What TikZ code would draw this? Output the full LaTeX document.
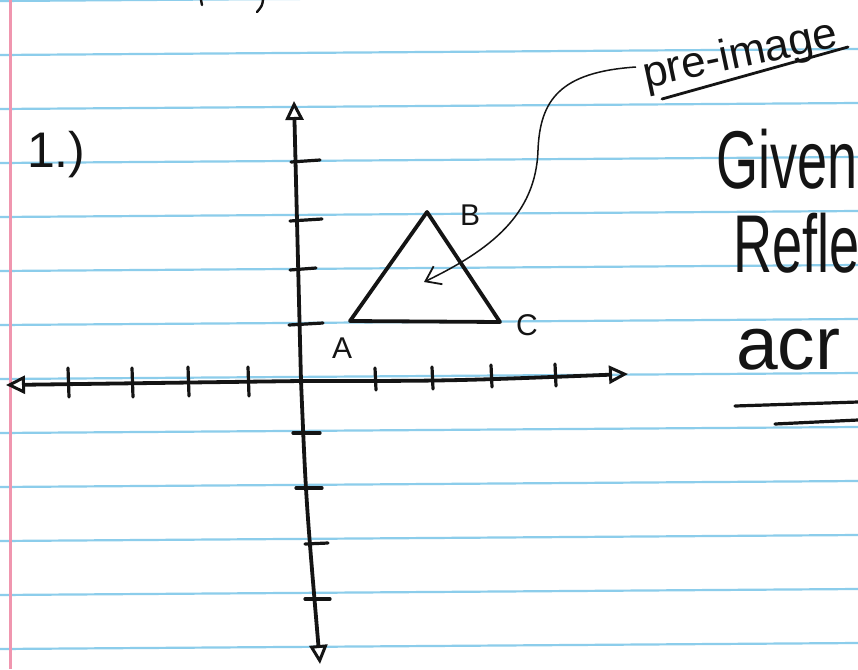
\documentclass[tikz,border=0pt]{standalone}
\usepackage{fontspec}
\setmainfont{Liberation Sans}
\usetikzlibrary{arrows.meta}
\definecolor{ruleblue}{RGB}{140,205,235}
\definecolor{marginpink}{RGB}{240,150,175}
\definecolor{ink}{RGB}{20,20,20}
\tikzset{
 rule/.style={ruleblue, line width=2.2pt},
 axisline/.style={ink, line width=3.8pt, line cap=round},
 tickmark/.style={ink, line width=3.2pt, line cap=round},
 tri/.style={ink, line width=3.8pt, line join=round},
 hand/.style={ink, inner sep=0pt, outer sep=0pt},
 pointer/.style={ink, line width=1.5pt},
 opentip/.style={-{Triangle[open,length=19pt,width=18pt,line width=3pt]}},
}
\begin{document}
\begin{tikzpicture}[x=1pt,y=-1pt]
\useasboundingbox (0,0) rectangle (858,669);
\clip (0,0) rectangle (858,669);
\fill[white] (0,0) rectangle (858,669);
% ruled lines
\foreach \y in {1,55,...,650} \draw[rule] (0,\y) -- (858,\y-6);
% margin
\draw[marginpink, line width=3pt] (10,0) -- (10,669);
% stray strokes at top
\draw[ink, line width=2.4pt, line cap=round] (201,0) -- (202,5);
\draw[ink, line width=2.4pt, line cap=round] (263,0) .. controls (262,6) .. (257,12);
% axes
\coordinate (O) at (301,381);
\coordinate (ytop) at (294,101);
\coordinate (ybot) at (320,664);
\coordinate (xleft) at (6,385);
\coordinate (xright) at (628,374);
\draw[axisline, opentip] (O) -- (ytop);
\draw[axisline, opentip] (O) .. controls (306,500) .. (ybot);
\draw[axisline, opentip] (O) -- (xleft);
\draw[axisline, opentip] (O) .. controls (450,381) .. (xright);
% x ticks
\foreach \x/\yy in {68/383,132/383,188/382,248/382} \draw[tickmark] (\x,\yy-15) -- (\x+1,\yy+14);
\foreach \x/\yy in {375/379,432/378,491/376,555/375} \draw[tickmark] (\x,\yy-11) -- (\x+1,\yy+11);
% y ticks
\draw[tickmark] (291,162) -- (320,160);
\draw[tickmark] (290,221) -- (322,219);
\draw[tickmark] (290,270) -- (316,268);
\draw[tickmark] (289,325) -- (323,323);
\draw[tickmark] (293,433) -- (320,433);
\draw[tickmark] (296,488) -- (322,488);
\draw[tickmark] (305,544) -- (328,543);
\draw[tickmark] (305,599) -- (330,599);
% triangle
\coordinate (A) at (350,321);
\coordinate (B) at (427,212);
\coordinate (C) at (500,322);
\draw[tri] (A) -- (B) -- (C) -- cycle;
\node[hand, font=\fontsize{30}{30}\selectfont] (lA) at (342,348) {A};
\node[hand, font=\fontsize{30}{30}\selectfont] (lB) at (470,215) {B};
\node[hand, font=\fontsize{30}{30}\selectfont] (lC) at (527,325) {C};
% pre-image label and pointer
\node[hand, rotate=12, anchor=base west, font=\fontsize{44}{44}\selectfont] (pre) at (646,88) {pre-image};
\coordinate (u0) at (662,99);
\coordinate (u1) at (848,47);
\draw[ink, line width=2.8pt, line cap=round] (u0) -- (u1);
\coordinate (p0) at (636,67);
\coordinate (p1) at (424,282);
\draw[pointer, -{Straight Barb[length=14pt,width=20pt,line width=1.8pt]}] (p0) .. controls (560,72) and (540,100) .. (538,150) .. controls (536,215) and (490,250) .. (p1);
% problem number
\node[hand, anchor=base west, font=\fontsize{50}{50}\selectfont] (num) at (27,167) {1.)};
% right-hand text
\node[hand, anchor=base west, xscale=0.66, transform shape, font=\fontsize{82}{82}\selectfont] (given) at (716,188) {Given};
\node[hand, anchor=base west, xscale=0.66, transform shape, font=\fontsize{82}{82}\selectfont] (refle) at (733,272) {Refle};
\node[hand, anchor=base west, font=\fontsize{75}{75}\selectfont] (acr) at (736,369) {acr};
\coordinate (v0) at (735,406);
\coordinate (v1) at (858,402);
\coordinate (w0) at (775,424);
\coordinate (w1) at (858,420);
\draw[ink, line width=3.2pt, line cap=round] (v0) -- (v1);
\draw[ink, line width=3.2pt, line cap=round] (w0) -- (w1);
\end{tikzpicture}
\end{document}
